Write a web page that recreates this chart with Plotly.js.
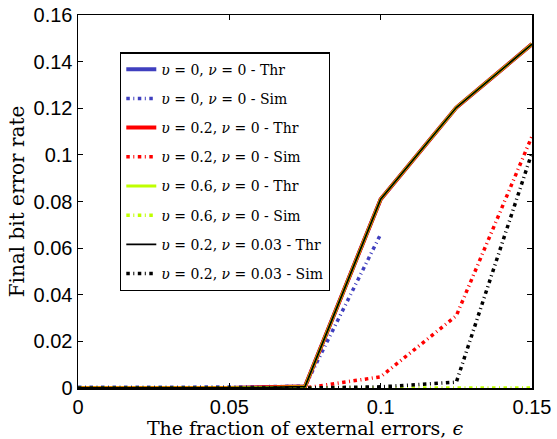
<!DOCTYPE html>
<html>
<head>
<meta charset="utf-8">
<script src="https://cdn.plot.ly/plotly-3.0.1.min.js"></script>
<style>html,body{margin:0;padding:0;background:#fff;}#chart{width:557px;height:439px;}</style>
</head>
<body>
<div id="chart"></div>
<script>
const eps = [0, 0.025, 0.05, 0.075, 0.1, 0.125, 0.15];

const thrU0N0   = [0, 0, 0, 0.0006, 0.081, 0.1203, 0.1475];
const simU0N0   = [0.0003, 0.0003, 0.0004, 0.0008, 0.066, null, null];
const thrU02N0  = [0, 0, 0, 0.0006, 0.081, 0.1203, 0.1475];
const simU02N0  = [0, 0, 0, 0, 0.0048, 0.031, 0.108];
const thrU06N0  = [0, 0, 0, 0.0006, 0.081, 0.1203, 0.1475];
const simU06N0  = [0, 0, 0, 0, 0, 0, 0];
const thrU02N03 = [0, 0, 0, 0.0006, 0.081, 0.1203, 0.1475];
const simU02N03 = [0, 0, 0, 0, 0.0005, 0.0025, 0.101];

const names = [
  "<i>υ</i> = 0, <i>ν</i> = 0 - Thr",
  "<i>υ</i> = 0, <i>ν</i> = 0 - Sim",
  "<i>υ</i> = 0.2, <i>ν</i> = 0 - Thr",
  "<i>υ</i> = 0.2, <i>ν</i> = 0 - Sim",
  "<i>υ</i> = 0.6, <i>ν</i> = 0 - Thr",
  "<i>υ</i> = 0.6, <i>ν</i> = 0 - Sim",
  "<i>υ</i> = 0.2, <i>ν</i> = 0.03 - Thr",
  "<i>υ</i> = 0.2, <i>ν</i> = 0.03 - Sim"
];

const series = [thrU0N0, simU0N0, thrU02N0, simU02N0, thrU06N0, simU06N0, thrU02N03, simU02N03];
const colors = ["#3f3fbf", "#3f3fbf", "#ff0000", "#ff0000", "#bfff00", "#bfff00", "#000000", "#000000"];
const widths = [4, 3.5, 4, 3.5, 2.8, 3.5, 1.8, 3.5];
const simDash = "3.5px,3.5px,1px,3.5px";

const traces = series.map((ys, i) => ({
  x: eps,
  y: ys,
  type: "scatter",
  mode: "lines",
  name: names[i],
  legendgroup: "g" + i,
  line: {color: colors[i], width: widths[i], dash: (i % 2 === 1) ? simDash : "solid"}
}));

const serif = "DejaVu Serif, serif";
const tickFont = {family: "Liberation Sans, Arial, sans-serif", size: 20, color: "#000"};
const layout = {
  width: 557, height: 439,
  margin: {l: 78, r: 25, t: 15, b: 51},
  paper_bgcolor: "#fff", plot_bgcolor: "#fff",
  showlegend: true,
  legend: {
    x: 0.0925, y: 0.90, xanchor: "left", yanchor: "top",
    bgcolor: "#fff", bordercolor: "#000", borderwidth: 1.3,
    font: {family: serif, size: 14, color: "#000"},
    tracegroupgap: 8,
    itemwidth: 30
  },
  xaxis: {
    range: [0, 0.15], tickvals: [0, 0.05, 0.1, 0.15], ticktext: ["0", "0.05", "0.1", "0.15"],
    ticks: "inside", ticklen: 5, tickcolor: "#000", showgrid: false, zeroline: false,
    showline: true, linecolor: "#000", linewidth: 1.5, mirror: "ticks",
    tickfont: tickFont,
    title: {text: "The fraction of external errors, <i>ϵ</i>", font: {family: serif, size: 19, color: "#000"}, standoff: 6}
  },
  yaxis: {
    range: [0, 0.16], tickvals: [0, 0.02, 0.04, 0.06, 0.08, 0.1, 0.12, 0.14, 0.16],
    ticktext: ["0", "0.02", "0.04", "0.06", "0.08", "0.1", "0.12", "0.14", "0.16"],
    ticks: "inside", ticklen: 5, tickcolor: "#000", showgrid: false, zeroline: false,
    showline: true, linecolor: "#000", linewidth: 1.5, mirror: "ticks",
    tickfont: tickFont,
    title: {text: "Final bit error rate", font: {family: serif, size: 20, color: "#000"}, standoff: 3}
  }
};

Plotly.newPlot("chart", traces, layout, {staticPlot: true, displayModeBar: false});
</script>
</body>
</html>
